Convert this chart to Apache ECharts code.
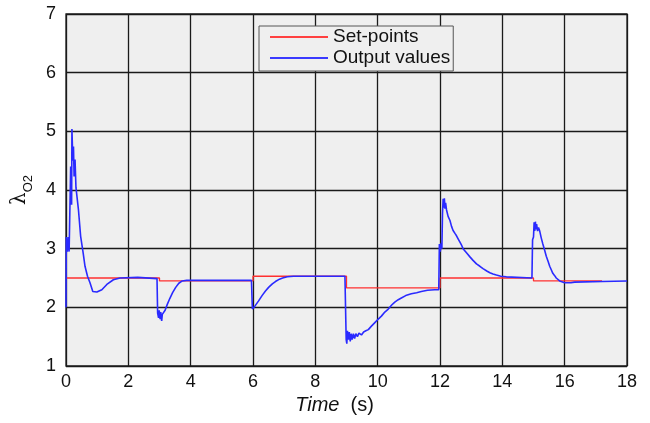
<!DOCTYPE html>
<html>
<head>
<meta charset="utf-8">
<script src="https://cdn.jsdelivr.net/npm/echarts@6/dist/echarts.min.js"></script>
<style>
html,body{margin:0;padding:0;background:#fff;}
#chart{width:650px;height:423px;}
</style>
</head>
<body>
<div id="chart"></div>
<script>
// Set-points (step changes)
var setTimes  = [0, 3, 6, 9, 12, 15, 17.2];
var setValues = [2.5, 2.45, 2.53, 2.33, 2.5, 2.45, 2.45];

// Output values
var outTime = [
  0, 0.01, 0.04, 0.07, 0.1, 0.12, 0.15, 0.18, 0.19, 0.22, 0.24, 0.26, 0.29, 0.32, 0.4, 0.47, 0.55, 0.61, 0.69, 0.77, 0.86, 0.99, 1.15, 1.31, 1.52, 1.73, 2.3, 2.92,
  2.94, 2.97, 2.99, 3.02, 3.04, 3.07, 3.09, 3.12, 3.18, 3.25, 3.33, 3.42, 3.52, 3.62, 3.73, 3.87, 5.95,
  5.98, 6.03, 6.06, 6.1, 6.18, 6.29, 6.4, 6.5, 6.62, 6.72, 6.85, 6.95, 7.1, 7.3, 8.95,
  8.99, 9.01, 9.03, 9.06, 9.09, 9.12, 9.15, 9.18, 9.22, 9.26, 9.3, 9.35, 9.4, 9.48, 9.55, 9.62, 9.7, 9.8, 9.91, 10.02, 10.12, 10.23, 10.34, 10.45, 10.55, 10.66, 10.76, 10.9, 11.08, 11.25, 11.4, 11.6, 11.83, 11.96,
  11.98, 12.01, 12.04, 12.06, 12.08, 12.1, 12.12, 12.14, 12.16, 12.18, 12.21, 12.26, 12.32, 12.37, 12.42, 12.48, 12.53, 12.59, 12.64, 12.7, 12.74, 12.85, 12.96, 13.06, 13.17, 13.28, 13.38, 13.5, 13.6, 13.7, 13.81, 13.95, 14.13, 14.95,
  14.97, 15.0, 15.02, 15.04, 15.06, 15.08, 15.1, 15.13, 15.16, 15.2, 15.25, 15.3, 15.36, 15.41, 15.47, 15.52, 15.57, 15.62, 15.68, 15.73, 15.84, 16.0, 16.2, 16.32, 17.2, 18
];
var outValue = [
  2.0, 3.2, 2.95, 3.2, 2.95, 2.95, 4.4, 3.75, 5.04, 4.5, 4.74, 4.23, 4.52, 4.04, 3.66, 3.21, 2.93, 2.7, 2.53, 2.42, 2.27, 2.26, 2.3, 2.39, 2.47, 2.5, 2.51, 2.49,
  1.9, 1.82, 1.95, 1.8, 1.92, 1.77, 1.88, 1.85, 1.95, 2.05, 2.15, 2.25, 2.34, 2.41, 2.45, 2.46, 2.46,
  1.97, 1.95, 2.02, 2.0, 2.11, 2.2, 2.28, 2.34, 2.4, 2.44, 2.48, 2.5, 2.52, 2.53, 2.53,
  1.45, 1.38, 1.6, 1.45, 1.58, 1.42, 1.55, 1.45, 1.55, 1.47, 1.55, 1.5, 1.56, 1.53, 1.58, 1.6, 1.62, 1.68, 1.74, 1.8, 1.85, 1.92, 1.97, 2.04, 2.09, 2.13, 2.16, 2.2, 2.23, 2.25, 2.27, 2.29, 2.3, 2.3,
  3.08, 2.95, 3.1, 3.0, 3.6, 3.85, 3.7, 3.86, 3.68, 3.78, 3.66, 3.55, 3.48, 3.38, 3.31, 3.26, 3.22, 3.16, 3.11, 3.05, 3.0, 2.93, 2.86, 2.8, 2.74, 2.7, 2.66, 2.62, 2.59, 2.57, 2.55, 2.53, 2.52, 2.5,
  3.15, 3.2, 3.45, 3.3, 3.46, 3.33, 3.42, 3.3, 3.36, 3.3, 3.18, 3.08, 2.97, 2.87, 2.78, 2.7, 2.64, 2.58, 2.54, 2.5, 2.45, 2.42, 2.42, 2.43, 2.44, 2.45
];

var xTicks = [0, 2, 4, 6, 8, 10, 12, 14, 16, 18];
var yTicks = [1, 2, 3, 4, 5, 6, 7];

var setData = setTimes.map(function (t, i) { return [t, setValues[i]]; });
var outData = outTime.map(function (t, i) { return [t, outValue[i]]; });

var FONT = 'Liberation Sans, Arial, sans-serif';
var chart = echarts.init(document.getElementById('chart'), null, {renderer: 'canvas'});
chart.setOption({
  animation: false,
  backgroundColor: '#ffffff',
  textStyle: {fontFamily: FONT},
  grid: {
    left: 66, top: 14, right: 23, bottom: 57,
    show: true, backgroundColor: '#efefef', borderColor: '#222', borderWidth: 1.3
  },
  xAxis: {
    type: 'value', min: xTicks[0], max: xTicks[xTicks.length - 1], interval: 2,
    axisLine: {show: false}, axisTick: {show: false},
    splitLine: {show: true, lineStyle: {color: '#1a1a1a', width: 1.3}},
    axisLabel: {fontSize: 18, color: '#111', margin: 7, fontFamily: FONT},
    name: '{i|Time}{n|  (s)}', nameLocation: 'middle', nameGap: 29,
    nameTextStyle: {
      padding: [0, 24, 0, 0],
      rich: {
        i: {fontSize: 20, fontStyle: 'italic', fontFamily: FONT, color: '#111'},
        n: {fontSize: 20, fontFamily: FONT, color: '#111'}
      }
    }
  },
  yAxis: {
    type: 'value', min: yTicks[0], max: yTicks[yTicks.length - 1], interval: 1,
    axisLine: {show: false}, axisTick: {show: false},
    splitLine: {show: true, lineStyle: {color: '#1a1a1a', width: 1.3}},
    axisLabel: {fontSize: 18, color: '#111', margin: 10, fontFamily: FONT},
    name: '{l|λ}{s|O2}', nameLocation: 'middle', nameGap: 34,
    nameTextStyle: {
      rich: {
        l: {fontSize: 20, fontFamily: 'DejaVu Serif, serif', color: '#111', verticalAlign: 'bottom'},
        s: {fontSize: 13, fontFamily: FONT, color: '#111', verticalAlign: 'bottom', padding: [0, 0, -5, 0]}
      }
    }
  },
  legend: {
    show: true, orient: 'vertical', left: 259, top: 26,
    padding: [1, 3, 3, 11], itemGap: 1, itemWidth: 58, itemHeight: 2,
    backgroundColor: '#efefef', borderColor: '#555', borderWidth: 1,
    icon: 'rect',
    textStyle: {fontSize: 19, color: '#111', fontFamily: FONT, lineHeight: 20, padding: [0, 0, 0, 0]},
    data: [
      {name: 'Set-points', itemStyle: {color: '#ff4040'}},
      {name: 'Output values', itemStyle: {color: '#3a3aff'}}
    ]
  },
  series: [
    {
      name: 'Set-points', type: 'line', step: 'end', data: setData,
      symbol: 'none', lineStyle: {color: '#ff3030', width: 1.3}, itemStyle: {color: '#ff3030'}, z: 2
    },
    {
      name: 'Output values', type: 'line', data: outData,
      symbol: 'none', lineStyle: {color: '#2a2aff', width: 1.6}, itemStyle: {color: '#2a2aff'}, z: 3
    }
  ]
});
</script>
</body>
</html>
